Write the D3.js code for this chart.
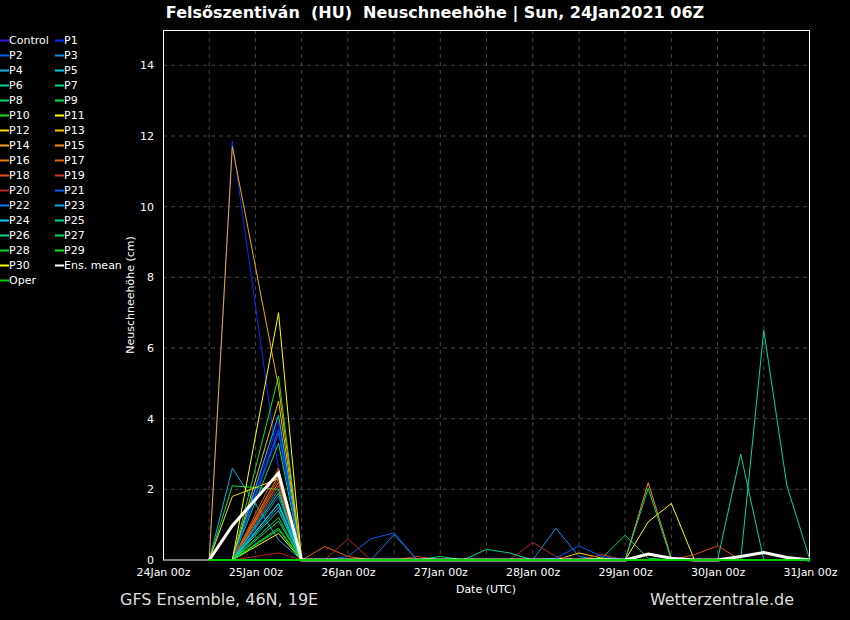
<!DOCTYPE html>
<html><head><meta charset="utf-8">
<script src="https://cdn.jsdelivr.net/npm/d3@7"></script>
<style>
html,body{margin:0;padding:0;background:#000;}
svg{display:block;font-family:"DejaVu Sans",sans-serif;}
</style></head>
<body>
<svg id="chart" width="850" height="620"></svg>
<script>
// Forecast hours after 24Jan2021 00z (6-hourly, 25Jan 00z step absent)
const hours = [12,18,30,36,42,48,54,60,66,72,78,84,90,96,102,108,114,120,126,132,138,144,150,156,162,168];
const xTickHours = [0,24,48,72,96,120,144,168];
const xTickLabels = ["24Jan 00z","25Jan 00z","26Jan 00z","27Jan 00z","28Jan 00z","29Jan 00z","30Jan 00z","31Jan 00z"];
const yTicks = [0,2,4,6,8,10,12,14];

// new snow height (cm) per member, one value per entry of `hours`
const control = [0,0,3.9,0,0,0,0,0,0,0,0,0,0,0,0,0,0,0,0,0,0,0,0,0,0,0];
const p1  = [0,11.85,2.55,0,0,0,0,0,0,0,0,0,0,0,0,0,0,0,0,0,0,0,0,0,0,0];
const p2  = [0,0,3.7,0,0,0.1,0.6,0.77,0,0,0,0,0,0,0,0,0,0,0,0,0,0,0,0,0,0];
const p3  = [0,0,2.0,0,0,0,0,0,0,0,0,0,0,0,0.9,0.1,0,0,0,0,0,0,0,0,0,0];
const p4  = [0,2.6,0.57,0,0,0,0,0,0,0,0,0,0,0,0,0,0,0,0,0,0,0,0,0,0,0];
const p5  = [0,0,4.1,0,0,0,0,0,0,0,0,0,0,0,0,0,0,0,0,0,0,0,0,0,0,0];
const p6  = [0,0,1.6,0,0,0,0,0,0,0,0,0,0,0,0,0,0,0,0,0,0,0,3.0,0,0,0];
const p7  = [0,0,3.3,0,0,0,0,0,0,0,0,0,0,0,0,0,0,0,0,0,0,0,0,0,0,0];
const p8  = [0,0,1.2,0,0,0,0,0,0,0,0,0,0,0,0,0,0.05,0.7,0.05,0,0,0,0,0,0,0];
const p9  = [0,2.1,2.0,0,0,0,0,0,0,0,0,0,0,0,0,0,0,0,0,0,0,0,0,0,0,0];
const p10 = [0,0,5.2,0,0,0,0,0,0,0,0,0,0,0,0,0,0,0,0,0,0,0,0,0,0,0];
const p11 = [0,0,0.75,0,0,0,0,0,0,0,0,0,0,0,0,0,0,0,1.08,1.6,0,0,0,0,0,0];
const p12 = [0,1.8,2.3,0,0,0,0,0,0,0,0,0,0,0,0,0.2,0.05,0,0,0,0,0,0,0,0,0];
const p13 = [0,0,4.5,0,0,0,0,0,0,0,0,0,0,0,0,0,0,0,0,0,0,0,0,0,0,0];
const p14 = [0,11.7,4.9,0,0,0,0,0,0,0,0,0,0,0,0,0,0,0,0,0,0,0,0,0,0,0];
const p15 = [0,0,2.4,0,0,0,0,0,0,0,0,0,0,0,0,0,0,0,2.19,0.05,0,0,0,0,0,0];
const p16 = [0,0,2.2,0,0,0,0,0,0,0,0,0,0,0,0,0,0,0,0,0,0,0,0,0,0,0];
const p17 = [0,0,2.6,0,0.38,0.1,0,0,0,0,0,0,0,0,0,0,0,0,0,0,0,0,0,0,0,0];
const p18 = [0,0,2.3,0,0,0,0,0,0,0,0,0,0,0,0,0,0,0,0,0,0.15,0.4,0,0,0,0];
const p19 = [0,0,2.1,0,0,0,0,0,0.1,0,0,0,0,0,0,0,0.15,0,0,0,0,0,0,0,0,0];
const p20 = [0,0,0.2,0,0,0.6,0,0,0,0,0,0,0,0.5,0.1,0,0,0,0,0,0,0,0,0,0,0];
const p21 = [0,0,3.6,0,0,0,0,0,0,0,0,0,0,0,0.05,0.4,0.1,0,0,0,0,0,0,0,0,0];
const p22 = [0,0,1.8,0,0,0,0,0.72,0,0,0,0,0,0,0,0,0,0,0,0,0,0,0,0,0,0];
const p23 = [0,0,1.5,0,0,0,0,0,0,0,0,0,0,0,0,0,0,0,0,0,0,0,0,0,0,0];
const p24 = [0,0,1.6,0,0,0,0,0,0,0,0,0,0,0,0,0,0,0,0,0,0,0,0,0,0,0];
const p25 = [0,0,1.4,0,0,0,0,0,0,0,0,0,0,0,0,0,0,0,0,0,0,0,0,6.5,2.1,0];
const p26 = [0,0,1.9,0,0,0,0,0,0,0,0,0.3,0.2,0,0,0,0,0,2.03,0,0,0,0,0,0,0];
const p27 = [0,0,1.1,0,0,0,0,0,0,0.1,0,0,0,0,0,0,0,0,0,0,0,0,0,0,0,0];
const p28 = [0,0,0.85,0,0,0,0,0,0,0,0,0,0,0,0,0,0,0,0,0,0,0,0,0,0,0];
const p29 = [0,0,0.9,0,0,0,0,0,0,0,0,0,0,0,0,0,0,0,0,0,0,0,0,0,0,0];
const p30 = [0,0,7.0,0,0,0,0,0,0,0,0,0,0,0,0,0,0,0,0,0,0,0,0,0,0,0];
const ensMean = [0,0.97,2.46,0,0,0,0,0,0,0,0,0,0,0,0,0,0,0,0.17,0.05,0,0,0.1,0.21,0.07,0];
const oper = [0,0,0,0,0,0,0,0,0,0,0,0,0,0,0,0,0,0,0,0,0,0,0,0,0,0];

const seriesNames = ["Control","P1","P2","P3","P4","P5","P6","P7","P8","P9","P10","P11","P12","P13","P14","P15","P16","P17","P18","P19","P20","P21","P22","P23","P24","P25","P26","P27","P28","P29","P30","Ens. mean","Oper"];
const seriesValues = [control,p1,p2,p3,p4,p5,p6,p7,p8,p9,p10,p11,p12,p13,p14,p15,p16,p17,p18,p19,p20,p21,p22,p23,p24,p25,p26,p27,p28,p29,p30,ensMean,oper];
const seriesColors = ["#3a10e8","#0030ff","#0060f0","#0090f0","#00b4e8","#00ccec","#00d898","#00dc80","#00d860","#00e040","#18e010",
  "#ffff00","#f8d800","#f8c000","#f8a800","#f89000","#f07800","#e86000","#e05020","#d03820","#c02020",
  "#0058ff","#0084f0","#00a8f0","#00d0f0","#00d8a0","#00d880","#00e060","#00e030","#10f010","#ffff00","#ffffff","#00d000"];

const svg = d3.select("#chart");
svg.append("rect").attr("width",850).attr("height",620).attr("fill","#000");

const x = d3.scaleLinear().domain([0,168]).range([163,810]);
const y = d3.scaleLinear().domain([0,15]).range([560,30]);

// grid
const grid = svg.append("g");
grid.selectAll("line.v").data(d3.range(12,168,12)).join("line")
  .attr("x1",d=>x(d)).attr("x2",d=>x(d)).attr("y1",30).attr("y2",560)
  .attr("stroke","#444").attr("stroke-width",1).attr("stroke-dasharray","4,4");
grid.selectAll("line.h").data(yTicks.filter(d=>d>0)).join("line")
  .attr("x1",163).attr("x2",810).attr("y1",d=>y(d)).attr("y2",d=>y(d))
  .attr("stroke","#444").attr("stroke-width",1).attr("stroke-dasharray","4,4");

// frame
svg.append("rect").attr("x",163.5).attr("y",30.5).attr("width",646).attr("height",529.5)
  .attr("fill","none").attr("stroke","#fff").attr("stroke-width",1);

// axes
const xAxis = d3.axisBottom(x).tickValues(xTickHours).tickSize(0).tickPadding(8)
  .tickFormat((d,i)=>xTickLabels[i]);
const gx = svg.append("g").attr("transform","translate(0,560)").call(xAxis);
gx.select(".domain").remove();
gx.selectAll("text").attr("fill","#fff").attr("font-size",11).attr("font-family","DejaVu Sans");

const yAxis = d3.axisLeft(y).tickValues(yTicks).tickSize(0).tickPadding(9).tickFormat(d3.format("d"));
const gy = svg.append("g").attr("transform","translate(163,0)").call(yAxis);
gy.select(".domain").remove();
gy.selectAll("text").attr("fill","#fff").attr("font-size",11).attr("font-family","DejaVu Sans");

// lines
const line = d3.line().x((d,i)=>x(hours[i])).y(d=>y(d));
const lg = svg.append("g");
seriesValues.forEach((vals,k)=>{
  const name = seriesNames[k];
  lg.append("path").datum(vals).attr("d",line).attr("fill","none")
    .attr("stroke",seriesColors[k])
    .attr("stroke-width", name==="Ens. mean" ? 3 : (name==="Oper" ? 2 : 1))
    .attr("stroke-linejoin","miter");
});

// legend
const lgd = svg.append("g");
seriesNames.forEach((n,k)=>{
  const col = k%2, row = Math.floor(k/2);
  const lx = col===0 ? 0 : 55, ly = 40 + row*15;
  lgd.append("line").attr("x1",lx).attr("x2",lx+9).attr("y1",ly+0.5).attr("y2",ly+0.5)
    .attr("stroke",seriesColors[k]).attr("stroke-width",2);
  lgd.append("text").attr("x",lx+9).attr("y",ly+4).attr("fill","#fff")
    .attr("font-size",11).text(n);
});

// titles
svg.append("text").attr("x",435).attr("y",18).attr("text-anchor","middle")
  .attr("fill","#fff").attr("font-size",16).attr("font-weight","bold")
  .text("Felsőszentiván  (HU)  Neuschneehöhe | Sun, 24Jan2021 06Z").attr("xml:space","preserve").style("white-space","pre");
svg.append("text").attr("transform","translate(134,295) rotate(-90)").attr("text-anchor","middle")
  .attr("fill","#fff").attr("font-size",11).text("Neuschneehöhe (cm)");
svg.append("text").attr("x",486).attr("y",593).attr("text-anchor","middle")
  .attr("fill","#fff").attr("font-size",11).text("Date (UTC)");
svg.append("text").attr("x",120).attr("y",605).attr("fill","#ddd").attr("font-size",16)
  .text("GFS Ensemble, 46N, 19E");
svg.append("text").attr("x",794).attr("y",605).attr("text-anchor","end").attr("fill","#ddd").attr("font-size",16)
  .text("Wetterzentrale.de");
</script>
</body></html>
